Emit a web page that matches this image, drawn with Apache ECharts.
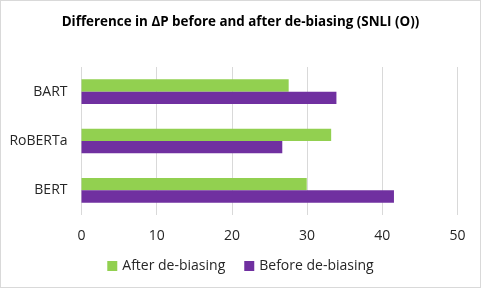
<!DOCTYPE html>
<html><head><meta charset="utf-8">
<script src="https://cdn.jsdelivr.net/npm/echarts@6/dist/echarts.min.js"></script>
<style>html,body{margin:0;padding:0;background:#fff}#c{width:481px;height:288px;box-sizing:border-box;border:1px solid #d9d9d9}</style>
</head><body><div id="c"></div>
<script>
const categories = ['BERT', 'RoBERTa', 'BART'];
const afterDebiasing = [29.95, 33.2, 27.55];
const beforeDebiasing = [41.55, 26.7, 33.9];
const xTicks = [0, 10, 20, 30, 40, 50];
const titleText = 'Difference in \u0394P before and after de-biasing (SNLI (O))';
const FONT = '"Open Sans", sans-serif';
const chart = echarts.init(document.getElementById('c'));
chart.setOption({
  animation: false,
  title: {text: titleText, left: 'center', top: 10, textStyle: {fontFamily: FONT, fontWeight: 'bold', fontSize: 13.4, color: '#000'}},
  legend: {data: ['After de-biasing', 'Before de-biasing'], bottom: 9, itemWidth: 10, itemHeight: 10, itemGap: 19,
    icon: 'rect', textStyle: {fontFamily: FONT, fontSize: 14, color: '#262626'}},
  grid: {left: 80.5, right: 22.5, top: 66, bottom: 72},
  xAxis: {type: 'value', min: xTicks[0], max: xTicks[xTicks.length-1], interval: 10,
    axisLine: {show: false}, axisTick: {show: false},
    splitLine: {lineStyle: {color: '#d9d9d9', width: 1}},
    axisLabel: {fontFamily: FONT, fontSize: 14, color: '#262626', margin: 14}},
  yAxis: {type: 'category', data: categories,
    axisLine: {show: false}, axisTick: {show: false},
    axisLabel: {fontFamily: FONT, fontSize: 14, color: '#262626', margin: 14}},
  series: [
    {name: 'After de-biasing', type: 'bar', data: afterDebiasing, itemStyle: {color: '#92d050'}, barWidth: 12.3, barGap: 0},
    {name: 'Before de-biasing', type: 'bar', data: beforeDebiasing, itemStyle: {color: '#7030a0'}, barWidth: 12.3, barGap: 0}
  ]
});
</script></body></html>
